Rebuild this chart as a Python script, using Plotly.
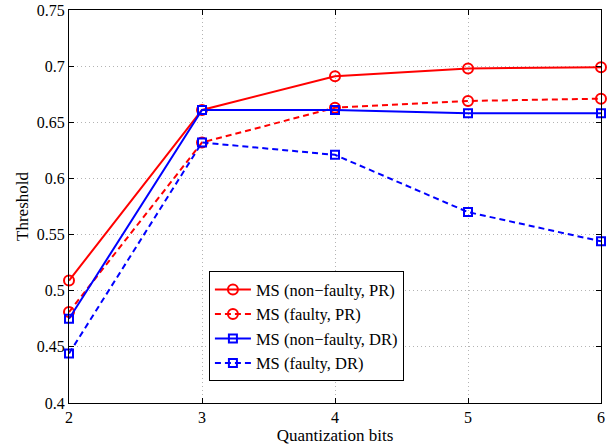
import plotly.graph_objects as go

bits = [2, 3, 4, 5, 6]
ms_nonfaulty_pr = [0.509, 0.661, 0.691, 0.698, 0.699]
ms_faulty_pr = [0.481, 0.632, 0.663, 0.669, 0.671]
ms_nonfaulty_dr = [0.475, 0.661, 0.661, 0.658, 0.658]
ms_faulty_dr = [0.444, 0.632, 0.621, 0.570, 0.544]

x_ticks = [2, 3, 4, 5, 6]
y_ticks = [0.4, 0.45, 0.5, 0.55, 0.6, 0.65, 0.7, 0.75]
y_tick_text = ["0.4", "0.45", "0.5", "0.55", "0.6", "0.65", "0.7", "0.75"]

series = [
    ("MS (non\u2212faulty, PR)", ms_nonfaulty_pr, "#ff0000", "solid", "circle-open", 10),
    ("MS (faulty, PR)", ms_faulty_pr, "#ff0000", "6px,4px", "circle-open", 10),
    ("MS (non\u2212faulty, DR)", ms_nonfaulty_dr, "#0000ff", "solid", "square-open", 8),
    ("MS (faulty, DR)", ms_faulty_dr, "#0000ff", "6px,4px", "square-open", 8),
]

fig = go.Figure()
for name, ys, color, dash, sym, size in series:
    fig.add_trace(go.Scatter(
        x=bits, y=ys, name=name, mode="lines+markers", cliponaxis=False,
        line=dict(color=color, width=2, dash=dash),
        marker=dict(symbol=sym, size=size, color=color, line=dict(width=2, color=color)),
    ))

axis_common = dict(
    showline=True, linecolor="black", linewidth=1, mirror="allticks",
    ticks="inside", ticklen=5, tickcolor="black",
    showgrid=True, gridcolor="#b4b4b4", griddash="1px,3px", gridwidth=1,
    zeroline=False, automargin=False,
    tickfont=dict(family="Liberation Serif", size=16, color="black"),
    title_font=dict(family="Liberation Serif", size=17, color="black"),
)

fig.update_xaxes(range=[2, 6], tickvals=x_ticks, title_text="Quantization bits",
                 title_standoff=0, **axis_common)
fig.update_yaxes(range=[0.4, 0.75], tickvals=y_ticks, ticktext=y_tick_text,
                 title_text="Threshold", title_standoff=3, **axis_common)

fig.update_layout(
    width=616, height=445,
    margin=dict(l=69, r=15, t=10, b=42),
    plot_bgcolor="white", paper_bgcolor="white",
    font=dict(family="Liberation Serif", color="black"),
    legend=dict(
        x=0.263, y=0.335, xanchor="left", yanchor="top",
        bgcolor="white", bordercolor="black", borderwidth=1,
        font=dict(family="Liberation Serif", size=16.5, color="black"),
        tracegroupgap=0, itemwidth=36,
    ),
)

fig.write_html("out.html", config={"displayModeBar": False},
               post_script="document.body.style.margin='0px';")
